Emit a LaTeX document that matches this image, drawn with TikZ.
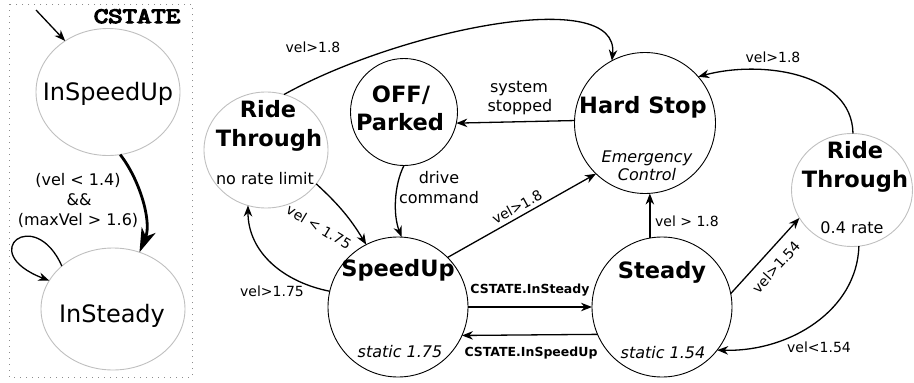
\documentclass[tikz,border=0pt]{standalone}
\usepackage{fontspec}
\setmainfont{DejaVu Sans}
\newfontfamily\cmono[FakeBold=5]{Latin Modern Mono}
\usetikzlibrary{arrows.meta,shapes.geometric}
\begin{document}
\begin{tikzpicture}[x=1pt,y=-1pt,
  circ/.style={circle,draw=black,line width=0.9pt,inner sep=0pt,outer sep=0pt},
  gcirc/.style={ellipse,draw=black!25,line width=0.9pt,inner sep=0pt,outer sep=0pt},
  title/.style={font=\fontsize{22.5}{27}\selectfont\bfseries,inner sep=0pt,anchor=base},
  big/.style={font=\fontsize{24}{28}\selectfont,inner sep=0pt,anchor=base},
  sub/.style={font=\fontsize{16}{19}\selectfont,inner sep=0pt,anchor=base},
  subit/.style={font=\fontsize{16}{19}\selectfont\itshape,inner sep=0pt,anchor=base},
  lbl/.style={font=\fontsize{14}{17}\selectfont,inner sep=0pt,anchor=base},
  rlbl/.style={font=\fontsize{14}{17}\selectfont,inner sep=0pt,anchor=center},
  clbl/.style={font=\fontsize{12.5}{15}\selectfont\bfseries,inner sep=0pt,anchor=base},
  arr/.style={-{Stealth[length=11pt,width=8.5pt,inset=3.5pt]},line width=1.3pt},
]
\useasboundingbox (0,0) rectangle (914,383);

% ---------- left panel ----------
\draw[black!45,line width=1pt,dash pattern=on 1pt off 5pt] (9,4) rectangle (192,377);
\node[font=\cmono\fontsize{22}{26}\selectfont,inner sep=0pt,anchor=base] (cst) at (137,23) {\scalebox{1.27}[1]{CSTATE}};
\node[gcirc,minimum width=144pt,minimum height=127pt] (isu) at (108,92) {};
\node[gcirc,minimum width=144pt,minimum height=122pt] (isd) at (113,309) {};
\node[big] (isut) at (108,100) {InSpeedUp};
\node[big] (isdt) at (112,322) {InSteady};
\coordinate (init) at (36,10);
\draw[arr] (init) -- (isu.130);
\draw[-{Stealth[length=24pt,width=15pt,inset=7pt]},line width=2.8pt]
  (isu.-79) .. controls (140,180) and (152,222) .. (isd.65);
\draw[arr] (isd.140) .. controls (35,205) and (-25,252) .. (isd.156);
\node[lbl,font=\fontsize{16}{19}\selectfont] (c1) at (78,185) {(vel < 1.4)};
\node[lbl,font=\fontsize{16}{19}\selectfont] (c2) at (79,205) {\&\&};
\node[lbl,font=\fontsize{16}{19}\selectfont] (c3) at (78,225) {(maxVel > 1.6)};

% ---------- main diagram ----------
\node[gcirc,minimum width=124pt,minimum height=116pt] (rtl) at (266,150) {};
\node[circ,minimum size=107pt] (off) at (404,112) {};
\node[circ,minimum size=141pt] (hs) at (645,123) {};
\node[gcirc,minimum width=121pt,minimum height=113pt] (rtr) at (852,190) {};
\node[circ,minimum size=140pt] (su) at (398,307) {};
\node[circ,minimum size=140pt] (st) at (662,307) {};

\node[title] (rtl1) at (268,117) {Ride};
\node[title] (rtl2) at (269,146) {Through};
\node[sub]   (rtl3) at (265,184) {no rate limit};
\node[title] (off1) at (401,102) {OFF/};
\node[title] (off2) at (400,130) {Parked};
\node[title] (hs1) at (643,113) {Hard Stop};
\node[subit] (hs2) at (647,162) {Emergency};
\node[subit] (hs3) at (647,180) {Control};
\node[title] (rtr1) at (855,158) {Ride};
\node[title] (rtr2) at (855,187) {Through};
\node[sub]   (rtr3) at (852,233) {0.4 rate};
\node[title] (su1) at (398,276) {SpeedUp};
\node[subit] (su2) at (400,357) {static 1.75};
\node[title] (st1) at (662,278) {Steady};
\node[subit] (st2) at (663,358) {static 1.54};

% edges
\draw[arr] (rtl.72) .. controls (400,30) and (620,-15) .. (hs.118);
\node[lbl] (e1) at (313,52) {vel>1.8};

\draw[arr] (hs.178) -- (off.-12);
\node[sub] (e2a) at (519,92) {system};
\node[sub] (e2b) at (520,111) {stopped};

\draw[arr] (off.270) .. controls (394,185) and (393,215) .. (su.87);
\node[sub] (e3a) at (439,183) {drive};
\node[sub] (e3b) at (439,203) {command};

\draw[arr] (rtl.-34) to[bend left=8] (su.117);
\node[rlbl,rotate=-31] (e4) at (319,227) {vel < 1.75};

\draw[arr] (su.167) .. controls (283,282) and (248,252) .. (rtl.-108);
\node[lbl] (e5) at (272,296) {vel>1.75};

\draw[arr] (su.45) -- (hs.-134);
\node[rlbl,rotate=29] (e6) at (517,207) {vel>1.8};

\draw[arr] (su.east) -- (st.west);
\node[clbl] (e7) at (530,293) {CSTATE.InSteady};
\draw[arr] (st.203) -- (su.-24);
\node[clbl] (e8) at (531,356) {CSTATE.InSpeedUp};

\draw[arr] (st.100) -- (hs.south -| st.100);
\node[lbl] (e9) at (687,226) {vel > 1.8};

\draw[arr] (st.11) -- (rtr.208);
\node[rlbl,rotate=48] (e10) at (776,267) {vel>1.54};

\draw[arr] (rtr.-83) .. controls (857,310) and (790,352) .. (st.-38);
\node[lbl] (e11) at (819,352) {vel<1.54};

\draw[arr] (rtr.89) .. controls (852,72) and (760,60) .. (hs.41);
\node[lbl] (e12) at (773,62) {vel>1.8};
\end{tikzpicture}
\end{document}
